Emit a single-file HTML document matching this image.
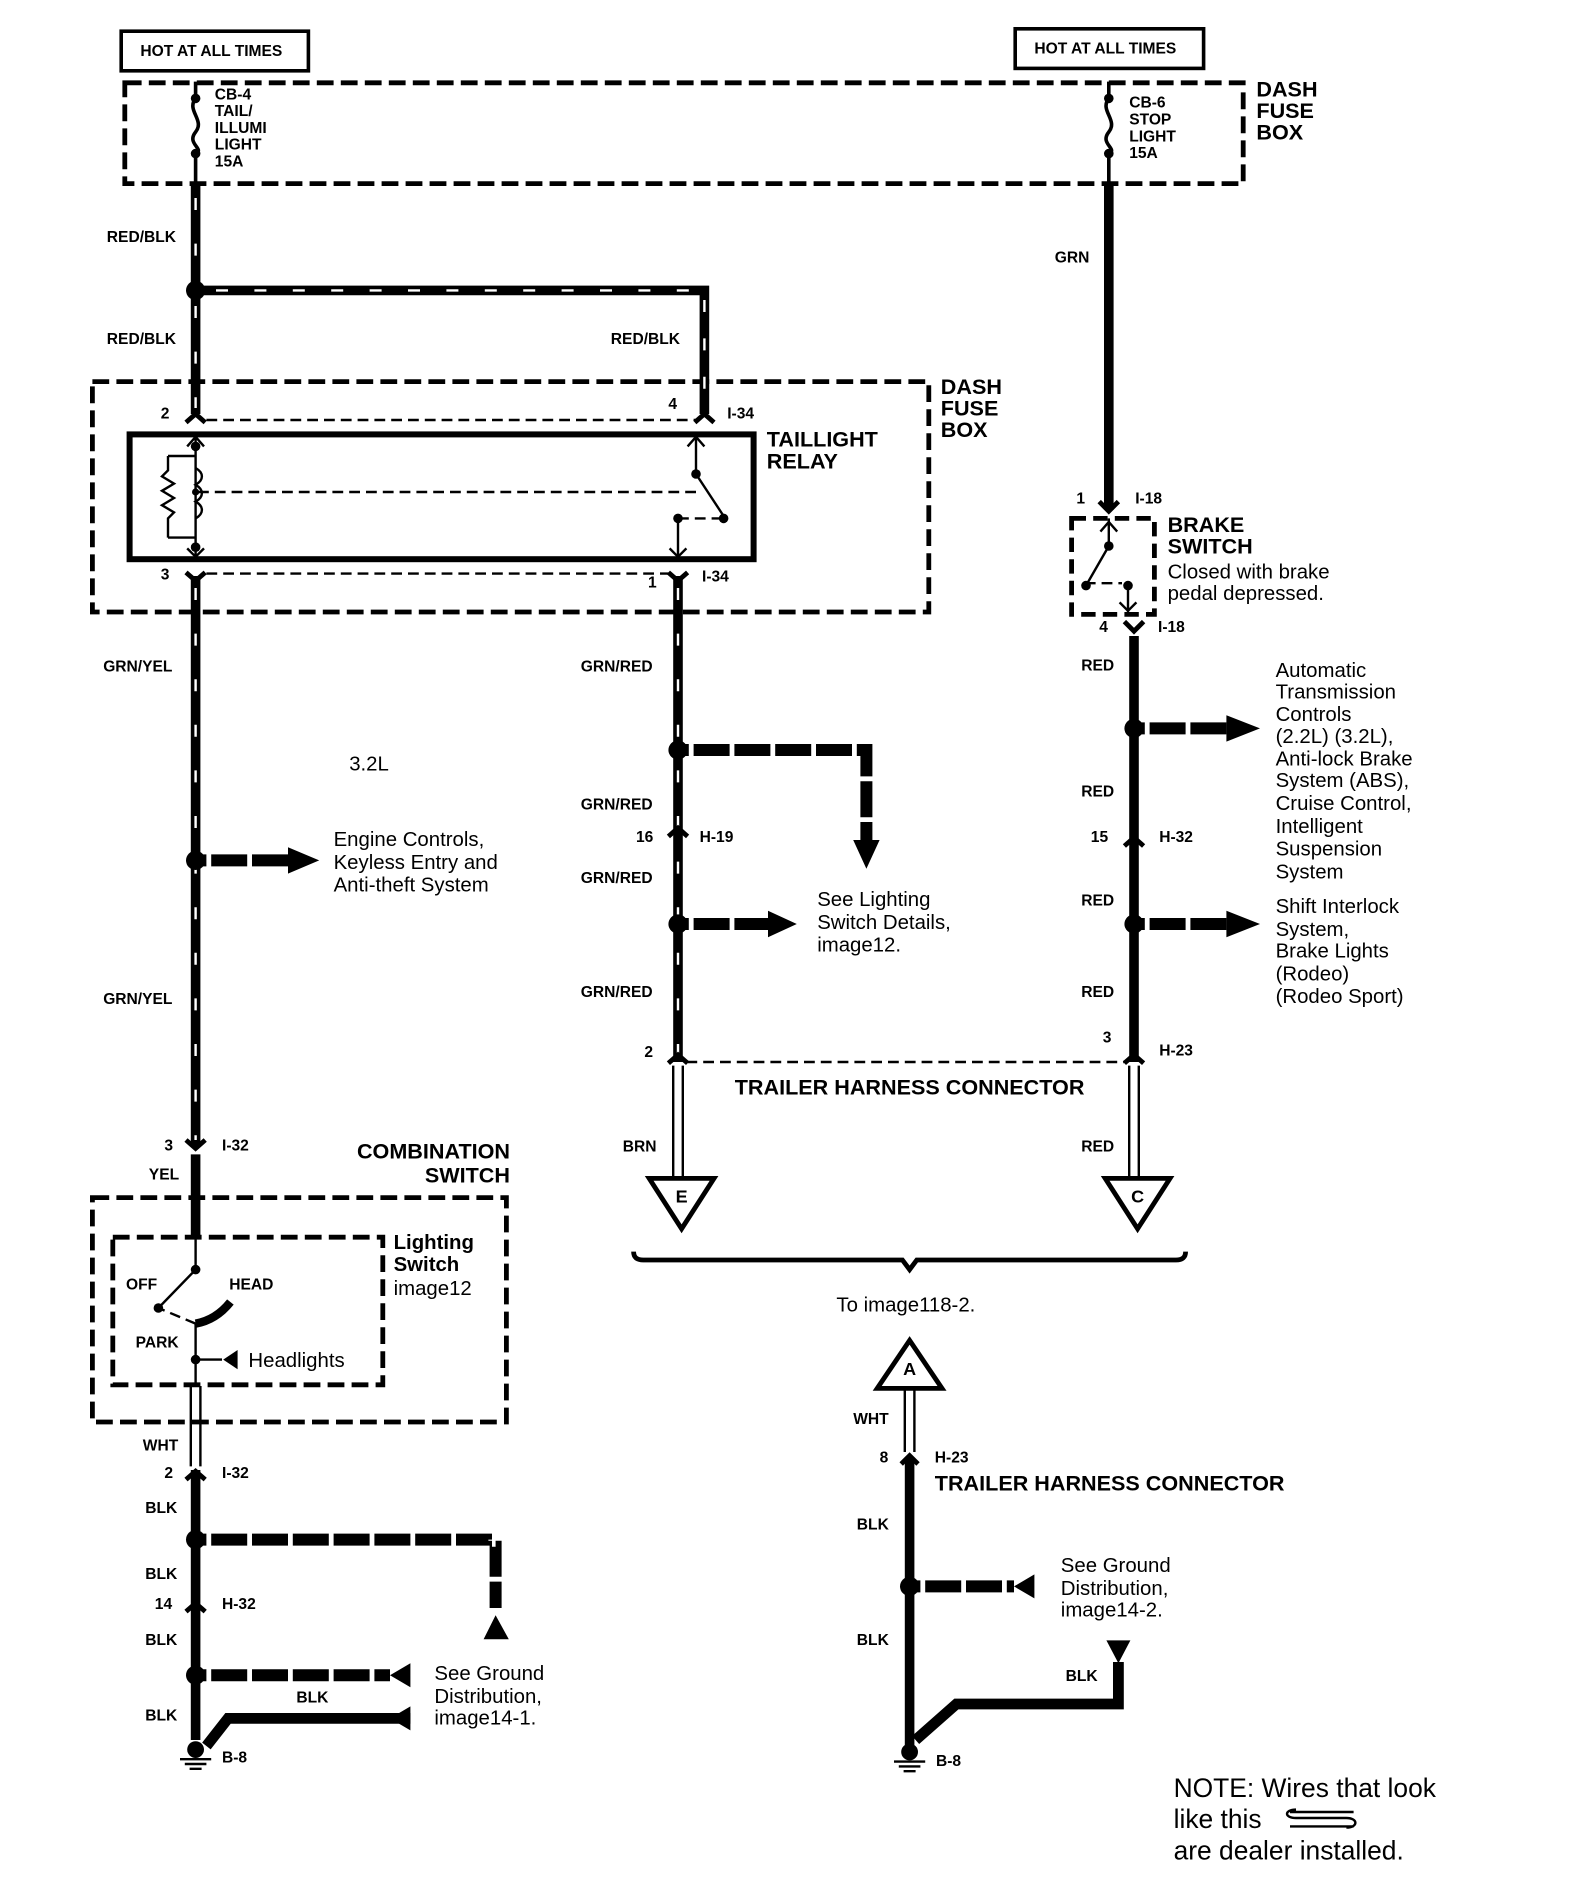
<!DOCTYPE html>
<html><head><meta charset="utf-8"><style>
html,body{margin:0;padding:0;background:#fff}
svg{display:block}
text{font-family:"Liberation Sans",sans-serif;fill:#000}
.b{font-weight:bold;font-size:13px}
.B{font-weight:bold;font-size:18px}
.r{font-size:17px}
</style></head><body>
<svg width="1584" height="1880" viewBox="0 0 1320 1566.67" xmlns="http://www.w3.org/2000/svg">
<g fill="none" stroke="#000">
<rect x="101" y="26" width="156" height="33" stroke-width="3"/>
<rect x="846" y="24" width="157" height="33" stroke-width="3"/>
<rect x="104" y="69" width="932" height="84" stroke-width="4" stroke-dasharray="14,6"/>
<rect x="77" y="318" width="697" height="192" stroke-width="4" stroke-dasharray="14,6"/>
<rect x="108" y="362" width="520" height="104" stroke-width="5"/>
<rect x="893" y="432" width="69" height="80" stroke-width="4" stroke-dasharray="12,6"/>
<rect x="77" y="998" width="345" height="187" stroke-width="4" stroke-dasharray="14,6"/>
<rect x="94" y="1031" width="225" height="123" stroke-width="4" stroke-dasharray="14,6"/>
<path d="M163 68V82 M163 82c-8 10 8 18 0 28c-8 10 8 14 0 18 M163 128V153" stroke-width="3"/>
<path d="M924 68V82 M924 82c-8 10 8 18 0 28c-8 10 8 14 0 18 M924 128V153" stroke-width="3"/>
<path d="M163 153V345 M163 242H587V345 M163 480V955 M565 480V885 M924 153V425 M945 530V885 M163 962V1030 M163 1225V1450 M758 1215V1455" stroke-width="8"/>
<path d="M565 625H722V700 M163 717H240 M565 770H640 M945 607H1022 M945 770H1022 M163 1283H413V1340 M163 1396H325 M758 1322H845" stroke-width="10"/>
<path d="M932 1385V1420H797L763 1450 M342 1432H190L172 1455" stroke-width="9"/>
</g>
<g fill="none" stroke="#fff" stroke-width="2">
<path d="M163 165V230 M163 255V340 M163 490V950 M565 490V880" stroke-dasharray="10,28"/>
<path d="M180 242H580 M587 250V340" stroke-dasharray="10,22"/>
</g>
<g fill="none" stroke="#fff" stroke-width="12">
<path d="M172 717H240 M574 625H722V690 M574 770H640 M954 607H1022 M954 770H1022 M172 1283H413V1340 M172 1396H325 M767 1322H845" stroke-dasharray="4,30"/>
</g>
<g>
<path d="M240 706L266 717L240 728z M640 759L664 770L640 781z M1022 596L1050 607L1022 618z M1022 759L1050 770L1022 781z M711 700L722 724L733 700z"/>
<path d="M403 1366L413 1346L424 1366z M342 1386L325 1396L342 1406z M342 1422L325 1432L342 1442z M862 1312L845 1322L862 1332z M922 1367L932 1386L942 1367z"/>
<circle cx="163" cy="242" r="8"/><circle cx="163" cy="717" r="8"/><circle cx="565" cy="625" r="8"/><circle cx="565" cy="770" r="8"/><circle cx="945" cy="607" r="8"/><circle cx="945" cy="770" r="8"/><circle cx="163" cy="1283" r="8"/><circle cx="163" cy="1396" r="8"/><circle cx="758" cy="1322" r="8"/>
</g>
<g fill="none" stroke="#000" stroke-width="2" stroke-dasharray="9,5">
<path d="M172 350H580 M172 478H558 M572 885H938 M163 1103L132 1090 M565 432L600 432 M904 486H935 M165 410H585"/>
</g>
<g fill="none" stroke="#000" stroke-width="4">
<path d="M155 352L163 345L171 352 M579 352L587 345L595 352 M155 477L163 484L171 477 M557 477L565 484L573 477 M916 418L924 426L932 418 M937 518L945 526L953 518 M155 950L163 957L171 950 M557 697L565 690L573 697 M937 705L945 698L953 705 M557 886L565 879L573 886 M937 886L945 879L953 886 M155 1233L163 1226L171 1233 M155 1343L163 1336L171 1343 M751 1220L758 1213L765 1220"/>
</g>
<g fill="none" stroke="#000" stroke-width="3">
<path d="M163 362V466 M156 372L163 364L170 372 M156 457L163 464L170 457 M140 380H163 M140 448H163 M140 380V392l-5 5 10 6-10 6 10 6-10 6 10 6-5 5V448" stroke-width="2"/>
<path d="M163 390c7 4 7 10 0 14c7 4 7 10 0 14c7 4 7 10 0 14" stroke-width="2"/>
<path d="M580 362V395L603 430 M573 372L580 364L587 372 M565 432V466 M558 457L565 464L572 457" stroke-width="2"/>
<path d="M924 432V455L905 488 M917 443L924 435L931 443 M940 488V510 M933 502L940 509L947 502" stroke-width="2"/>
<path d="M163 1030V1058L132 1090 M163 1103V1155 M163 1133H185" stroke-width="2"/>
<path d="M163 1103Q180 1100 192 1085" stroke-width="7"/>
<path d="M159 1155V1222 M167 1155V1222 M561 888V980 M569 888V980 M941 888V980 M949 888V980 M754 1158V1210 M762 1158V1210" stroke-width="2"/>
<path d="M541 982H595L568 1024Z M921 982H975L948 1024Z M758 1117L785 1157H731Z" stroke-width="4" fill="#fff"/>
<path d="M528 1043Q528 1050 536 1050H752L758 1058L764 1050H980Q988 1050 988 1043" stroke-width="4"/>
<path d="M1075 1510H1128 M1075 1522H1128 M1080 1508c-10 0-10 7 0 7h42c10 0 10 8 0 8" stroke-width="2"/>
</g>
<g>
<circle cx="163" cy="372" r="4"/><circle cx="163" cy="456" r="4"/><circle cx="163" cy="410" r="3"/><circle cx="580" cy="395" r="4"/><circle cx="603" cy="432" r="4"/><circle cx="565" cy="432" r="4"/>
<circle cx="924" cy="455" r="4"/><circle cx="905" cy="488" r="4"/><circle cx="940" cy="488" r="4"/>
<circle cx="163" cy="1058" r="4"/><circle cx="132" cy="1090" r="4"/><circle cx="163" cy="1133" r="4"/>
<circle cx="163" cy="82" r="4"/><circle cx="163" cy="128" r="4"/><circle cx="924" cy="82" r="4"/><circle cx="924" cy="128" r="4"/>
<path d="M186 1133L198 1125L198 1141z"/>
<circle cx="163" cy="1458" r="7"/><path d="M150 1466H176M154 1470H172M158 1474H168" stroke="#000" stroke-width="2"/>
<circle cx="758" cy="1460" r="7"/><path d="M745 1468H771M749 1472H767M753 1476H763" stroke="#000" stroke-width="2"/>
</g>
<g dominant-baseline="central">
<text class="b" x="117" y="43">HOT AT ALL TIMES</text>
<text class="b" x="862" y="41">HOT AT ALL TIMES</text>
<text class="b" x="179" y="79">CB-4</text><text class="b" x="179" y="93">TAIL/</text><text class="b" x="179" y="107">ILLUMI</text><text class="b" x="179" y="121">LIGHT</text><text class="b" x="179" y="135">15A</text>
<text class="b" x="941" y="86">CB-6</text><text class="b" x="941" y="100">STOP</text><text class="b" x="941" y="114">LIGHT</text><text class="b" x="941" y="128">15A</text>
<text class="B" x="1047" y="74">DASH</text><text class="B" x="1047" y="92">FUSE</text><text class="B" x="1047" y="110">BOX</text>
<text class="B" x="784" y="322">DASH</text><text class="B" x="784" y="340">FUSE</text><text class="B" x="784" y="358">BOX</text>
<text class="b" x="89" y="198">RED/BLK</text><text class="b" x="89" y="283">RED/BLK</text><text class="b" x="509" y="283">RED/BLK</text>
<text class="b" x="879" y="215">GRN</text>
<text class="b" x="134" y="345">2</text><text class="b" x="557" y="337">4</text><text class="b" x="606" y="345">I-34</text>
<text class="B" x="639" y="366">TAILLIGHT</text><text class="B" x="639" y="384">RELAY</text>
<text class="b" x="134" y="479">3</text><text class="b" x="540" y="486">1</text><text class="b" x="585" y="481">I-34</text>
<text class="b" x="897" y="416">1</text><text class="b" x="946" y="416">I-18</text>
<text class="B" x="973" y="437">BRAKE</text><text class="B" x="973" y="455">SWITCH</text>
<text class="r" x="973" y="477">Closed with brake</text><text class="r" x="973" y="495">pedal depressed.</text>
<text class="b" x="916" y="523">4</text><text class="b" x="965" y="523">I-18</text>
<text class="b" x="86" y="556">GRN/YEL</text><text class="b" x="86" y="833">GRN/YEL</text>
<text class="b" x="484" y="556">GRN/RED</text><text class="b" x="484" y="671">GRN/RED</text><text class="b" x="484" y="732">GRN/RED</text><text class="b" x="484" y="827">GRN/RED</text>
<text class="b" x="901" y="555">RED</text><text class="b" x="901" y="660">RED</text><text class="b" x="901" y="751">RED</text><text class="b" x="901" y="827">RED</text>
<text class="r" x="291" y="637">3.2L</text>
<text class="r" x="278" y="700">Engine Controls,</text><text class="r" x="278" y="719">Keyless Entry and</text><text class="r" x="278" y="738">Anti-theft System</text>
<text class="b" x="530" y="698">16</text><text class="b" x="583" y="698">H-19</text>
<text class="b" x="909" y="698">15</text><text class="b" x="966" y="698">H-32</text>
<text class="r" x="681" y="750">See Lighting</text><text class="r" x="681" y="769">Switch Details,</text><text class="r" x="681" y="788">image12.</text>
<text class="r" x="1063" y="559">Automatic</text><text class="r" x="1063" y="577">Transmission</text><text class="r" x="1063" y="596">Controls</text><text class="r" x="1063" y="614">(2.2L) (3.2L),</text><text class="r" x="1063" y="633">Anti-lock Brake</text><text class="r" x="1063" y="651">System (ABS),</text><text class="r" x="1063" y="670">Cruise Control,</text><text class="r" x="1063" y="689">Intelligent</text><text class="r" x="1063" y="708">Suspension</text><text class="r" x="1063" y="727">System</text>
<text class="r" x="1063" y="756">Shift Interlock</text><text class="r" x="1063" y="775">System,</text><text class="r" x="1063" y="793">Brake Lights</text><text class="r" x="1063" y="812">(Rodeo)</text><text class="r" x="1063" y="831">(Rodeo Sport)</text>
<text class="b" x="537" y="877">2</text><text class="b" x="919" y="865">3</text><text class="b" x="966" y="876">H-23</text>
<text class="B" x="758" y="906" text-anchor="middle">TRAILER HARNESS CONNECTOR</text>
<text class="b" x="519" y="956">BRN</text><text class="b" x="901" y="956">RED</text>
<text class="B" x="568" y="997" text-anchor="middle" style="font-size:15px">E</text>
<text class="B" x="948" y="997" text-anchor="middle" style="font-size:15px">C</text>
<text class="B" x="758" y="1141" text-anchor="middle" style="font-size:15px">A</text>
<text class="r" x="697" y="1088">To image118-2.</text>
<text class="b" x="711" y="1183">WHT</text>
<text class="b" x="733" y="1215">8</text><text class="b" x="779" y="1215">H-23</text>
<text class="B" x="779" y="1236">TRAILER HARNESS CONNECTOR</text>
<text class="b" x="714" y="1271">BLK</text><text class="b" x="714" y="1367">BLK</text><text class="b" x="888" y="1397">BLK</text>
<text class="r" x="884" y="1305">See Ground</text><text class="r" x="884" y="1324">Distribution,</text><text class="r" x="884" y="1342">image14-2.</text>
<text class="b" x="780" y="1468">B-8</text>
<text class="b" x="137" y="955">3</text><text class="b" x="185" y="955">I-32</text>
<text class="b" x="124" y="979">YEL</text>
<text class="B" x="425" y="959" text-anchor="end">COMBINATION</text><text class="B" x="425" y="979" text-anchor="end">SWITCH</text>
<text class="B" x="328" y="1036" style="font-size:17px">Lighting</text><text class="B" x="328" y="1054" style="font-size:17px">Switch</text><text class="r" x="328" y="1074">image12</text>
<text class="b" x="105" y="1071">OFF</text><text class="b" x="191" y="1071">HEAD</text><text class="b" x="113" y="1119">PARK</text>
<text class="r" x="207" y="1134">Headlights</text>
<text class="b" x="119" y="1205">WHT</text>
<text class="b" x="137" y="1228">2</text><text class="b" x="185" y="1228">I-32</text>
<text class="b" x="121" y="1257">BLK</text><text class="b" x="121" y="1312">BLK</text>
<text class="b" x="129" y="1337">14</text><text class="b" x="185" y="1337">H-32</text>
<text class="b" x="121" y="1367">BLK</text><text class="b" x="121" y="1430">BLK</text><text class="b" x="247" y="1415">BLK</text>
<text class="r" x="362" y="1395">See Ground</text><text class="r" x="362" y="1414">Distribution,</text><text class="r" x="362" y="1432">image14-1.</text>
<text class="b" x="185" y="1465">B-8</text>
<text x="978" y="1490" style="font-size:22px">NOTE: Wires that look</text>
<text x="978" y="1516" style="font-size:22px">like this</text>
<text x="978" y="1542" style="font-size:22px">are dealer installed.</text>
</g>
</svg>
</body></html>
